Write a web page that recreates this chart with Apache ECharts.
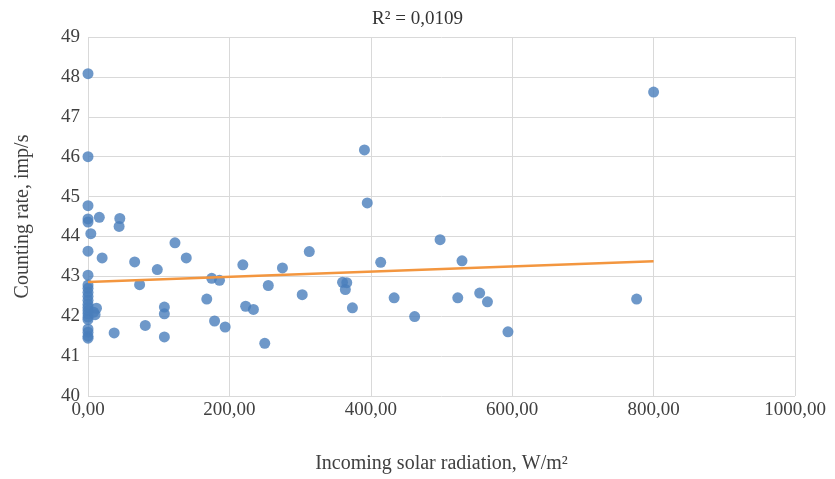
<!DOCTYPE html>
<html>
<head>
<meta charset="utf-8">
<script src="https://cdn.jsdelivr.net/npm/echarts@6/dist/echarts.min.js"></script>
<style>html,body{margin:0;padding:0;background:#fff;}#c{width:835px;height:479px;}</style>
</head>
<body>
<div id="c"></div>
<script>
const radiation = [0,0,0,0,0,0,0,0,0,0,0,0,0,0,0,0,0,0,0,0,0,0,
  4,16,20,10,12,8,37,44,45,66,73,81,98,108,108,108,123,139,168,175,179,186,194,
  219,223,234,250,255,275,303,313,360,366,364,374,391,395,414,433,462,498,523,529,554,565,594,776,800];
const countRate = [48.08,46.0,44.77,44.44,44.36,43.63,43.03,42.78,42.7,42.6,42.5,42.4,42.3,42.22,42.14,42.06,41.98,41.92,41.68,41.6,41.5,41.45,
  44.07,44.48,43.46,42.04,42.2,42.1,41.58,44.25,44.45,43.36,42.79,41.77,43.17,42.23,42.06,41.48,43.84,43.46,42.43,42.95,41.88,42.9,41.73,
  43.29,42.25,42.17,41.32,42.77,43.21,42.54,43.62,42.85,42.84,42.67,42.21,46.17,44.84,43.35,42.46,41.99,43.92,42.46,43.39,42.58,42.36,41.61,42.43,47.62];
const trendX = [0, 800];
const trendY = [42.86, 43.38];
const titleText = 'R² = 0,0109';
const xName = 'Incoming solar radiation, W/m²';
const yName = 'Counting rate, imp/s';

const points = radiation.map((x, i) => [x, countRate[i]]);
const trend = trendX.map((x, i) => [x, trendY[i]]);
const font = 'Liberation Serif, Times New Roman, serif';

const chart = echarts.init(document.getElementById('c'));
chart.setOption({
  animation: false,
  title: { text: titleText, left: 'center', top: 5,
    textStyle: { fontFamily: font, fontSize: 19, fontWeight: 'normal', color: '#333' } },
  grid: { left: 88, right: 40, top: 37, bottom: 82 },
  xAxis: {
    type: 'value', min: 0, max: 1000, interval: 200,
    axisLine: { show: false }, axisTick: { show: false },
    splitLine: { show: true, lineStyle: { color: '#d9d9d9', width: 1 } },
    axisLabel: { fontFamily: font, fontSize: 19, color: '#404040', margin: 5,
      formatter: v => v.toFixed(2).replace('.', ',') },
    name: xName, nameLocation: 'middle', nameGap: 58,
    nameTextStyle: { fontFamily: font, fontSize: 20, color: '#404040' }
  },
  yAxis: {
    type: 'value', min: 40, max: 49, interval: 1,
    axisLine: { show: false }, axisTick: { show: false },
    splitLine: { show: true, lineStyle: { color: '#d9d9d9', width: 1 } },
    axisLabel: { fontFamily: font, fontSize: 19, color: '#404040', margin: 8 },
    name: yName, nameLocation: 'middle', nameGap: 55,
    nameTextStyle: { fontFamily: font, fontSize: 20, color: '#404040' }
  },
  series: [
    { type: 'line', data: trend, showSymbol: false, symbol: 'none',
      lineStyle: { color: '#F3963F', width: 2.5 }, z: 3 },
    { type: 'scatter', data: points, symbolSize: 11,
      itemStyle: { color: '#4A7EBB' }, z: 2 }
  ]
});
</script>
</body>
</html>
